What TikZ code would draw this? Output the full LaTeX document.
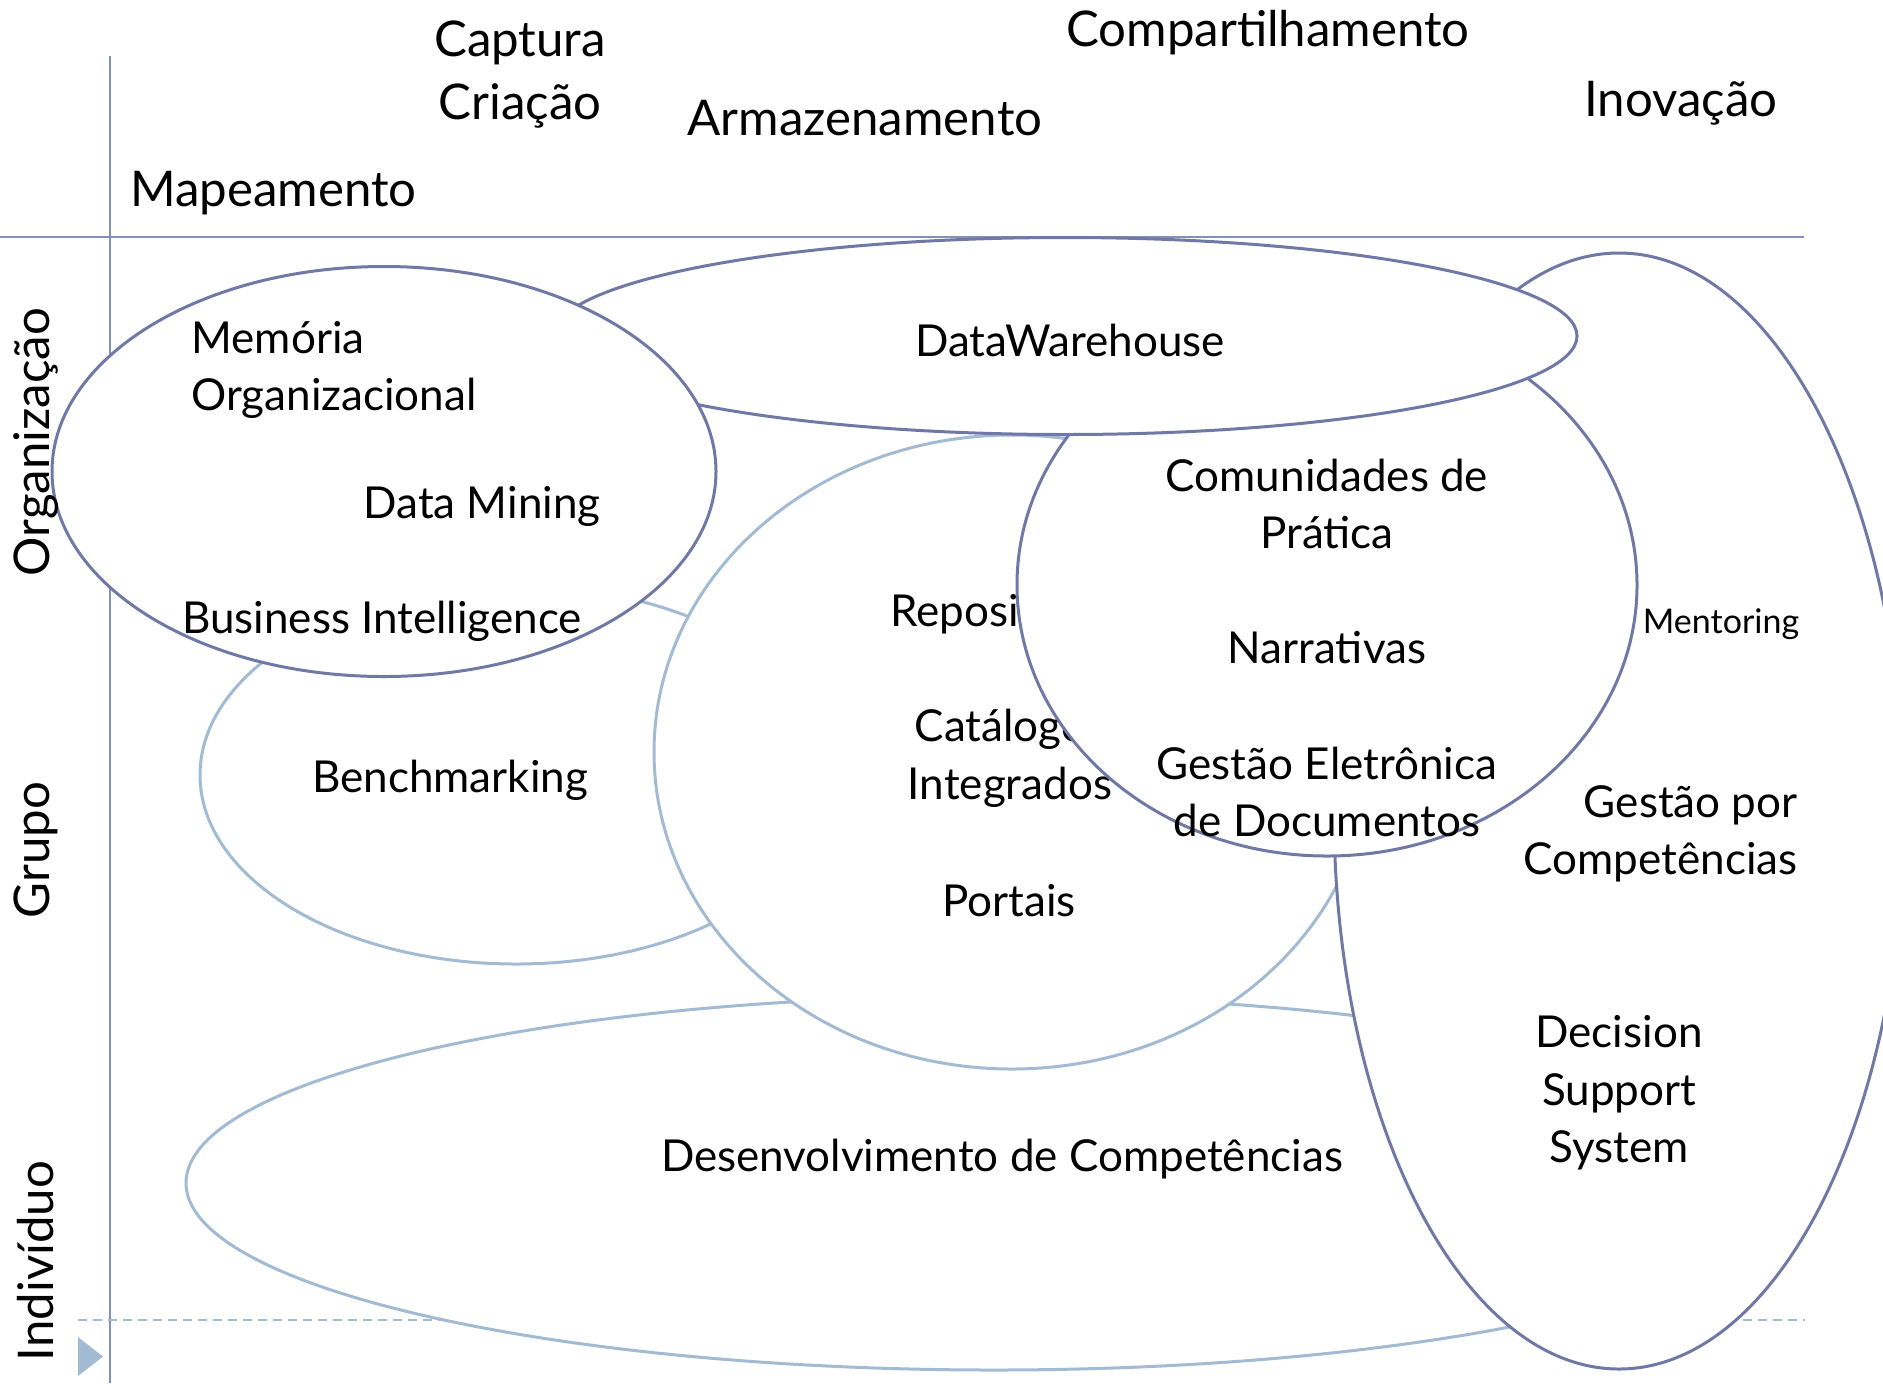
\documentclass[tikz,border=0pt]{standalone}
\usepackage{fontspec}
\setmainfont{Lato}
\definecolor{darkc}{HTML}{7079A6}
\definecolor{lightc}{HTML}{A2BAD2}
\definecolor{axisc}{HTML}{8391BA}
\begin{document}
\begin{tikzpicture}[x=0.5pt,y=-0.5pt,
  dark/.style={draw=darkc, line width=1.5pt, fill=white},
  light/.style={draw=lightc, line width=1.5pt, fill=white},
  lbl/.style={font=\fontsize{22}{28.8}\selectfont, inner sep=0pt, align=center, text=black},
  big/.style={font=\fontsize{24.6}{30}\selectfont, inner sep=0pt, align=center, text=black},
  small/.style={font=\fontsize{17}{20}\selectfont, inner sep=0pt, text=black},
  axisline/.style={draw=axisc, line width=0.8pt},
  dashline/.style={draw=lightc, line width=0.8pt, dash pattern=on 4.5pt off 3pt}]
\useasboundingbox (0,0) rectangle (1883,1383);
\fill[white] (0,0) rectangle (1883,1383);
% axes
\coordinate (vtop) at (110,56);
\coordinate (vbot) at (110,1383);
\coordinate (hl) at (0,237);
\coordinate (hr) at (1804,237);
\coordinate (dl) at (78,1320);
\coordinate (dr) at (1805,1320);
\draw[axisline] (vtop) -- (vbot);
\draw[axisline] (hl) -- (hr);
\draw[dashline] (dl) -- (dr);
\fill[lightc] (78,1337) -- (78,1376) -- (103,1356.5) -- cycle;
% top labels
\node[big] (cap) at (520,43) {Captura};
\node[big] (cri) at (520,106) {Criação};
\node[big] (comp) at (1268,33) {Compartilhamento};
\node[big] (arm) at (865,118) {Armazenamento};
\node[big] (inov) at (1681,103) {Inovação};
\node[big, anchor=west] (map) at (130,193) {Mapeamento};
% ellipses, back to front
\path[light] (516,775) ellipse [x radius=316, y radius=189];
\node[lbl] (bench) at (450,780) {Benchmarking};
\path[light] (994,1183) ellipse [x radius=808, y radius=187];
\node[lbl] (dev) at (1002,1159) {Desenvolvimento de Competências};
\path[light] (1012,752) ellipse [x radius=358, y radius=317];
\node[lbl] (repo) at (1010,614) {Repositórios};
\node[lbl] (cat) at (1010,758) {Catálogos\\Integrados};
\node[lbl] (port) at (1009,901) {Portais};
\path[dark] (1619,811) ellipse [x radius=285, y radius=558];
\node[small] (ment) at (1721,624) {Mentoring};
\node[lbl, anchor=east, align=right] (gpc) at (1798,834) {Gestão por\\Competências};
\node[lbl] (dss) at (1619,1093) {Decision\\Support\\System};
\path[dark] (1327,585) ellipse [x radius=310, y radius=271];
\node[lbl] (cdp) at (1327,504) {Comunidades de\\Prática};
\node[lbl] (narr) at (1327,648) {Narrativas};
\node[lbl] (ged) at (1327,792) {Gestão Eletrônica\\de Documentos};
\path[dark] (1065,336) ellipse [x radius=512, y radius=98.5];
\node[lbl] (dw) at (1070,340) {DataWarehouse};
\path[dark] (384,471.5) ellipse [x radius=332, y radius=205];
\node[lbl, anchor=west, align=left] (mem) at (191,370) {Memória\\Organizacional};
\node[lbl] (dm) at (482,506) {Data Mining};
\node[lbl] (bi) at (382,621) {Business Intelligence};
% side labels
\node[big, rotate=90] (org) at (36,442) {Organização};
\node[big, rotate=90] (grp) at (36,850) {Grupo};
\node[big, rotate=90] (ind) at (36,1261) {Indivíduo};
\end{tikzpicture}
\end{document}
